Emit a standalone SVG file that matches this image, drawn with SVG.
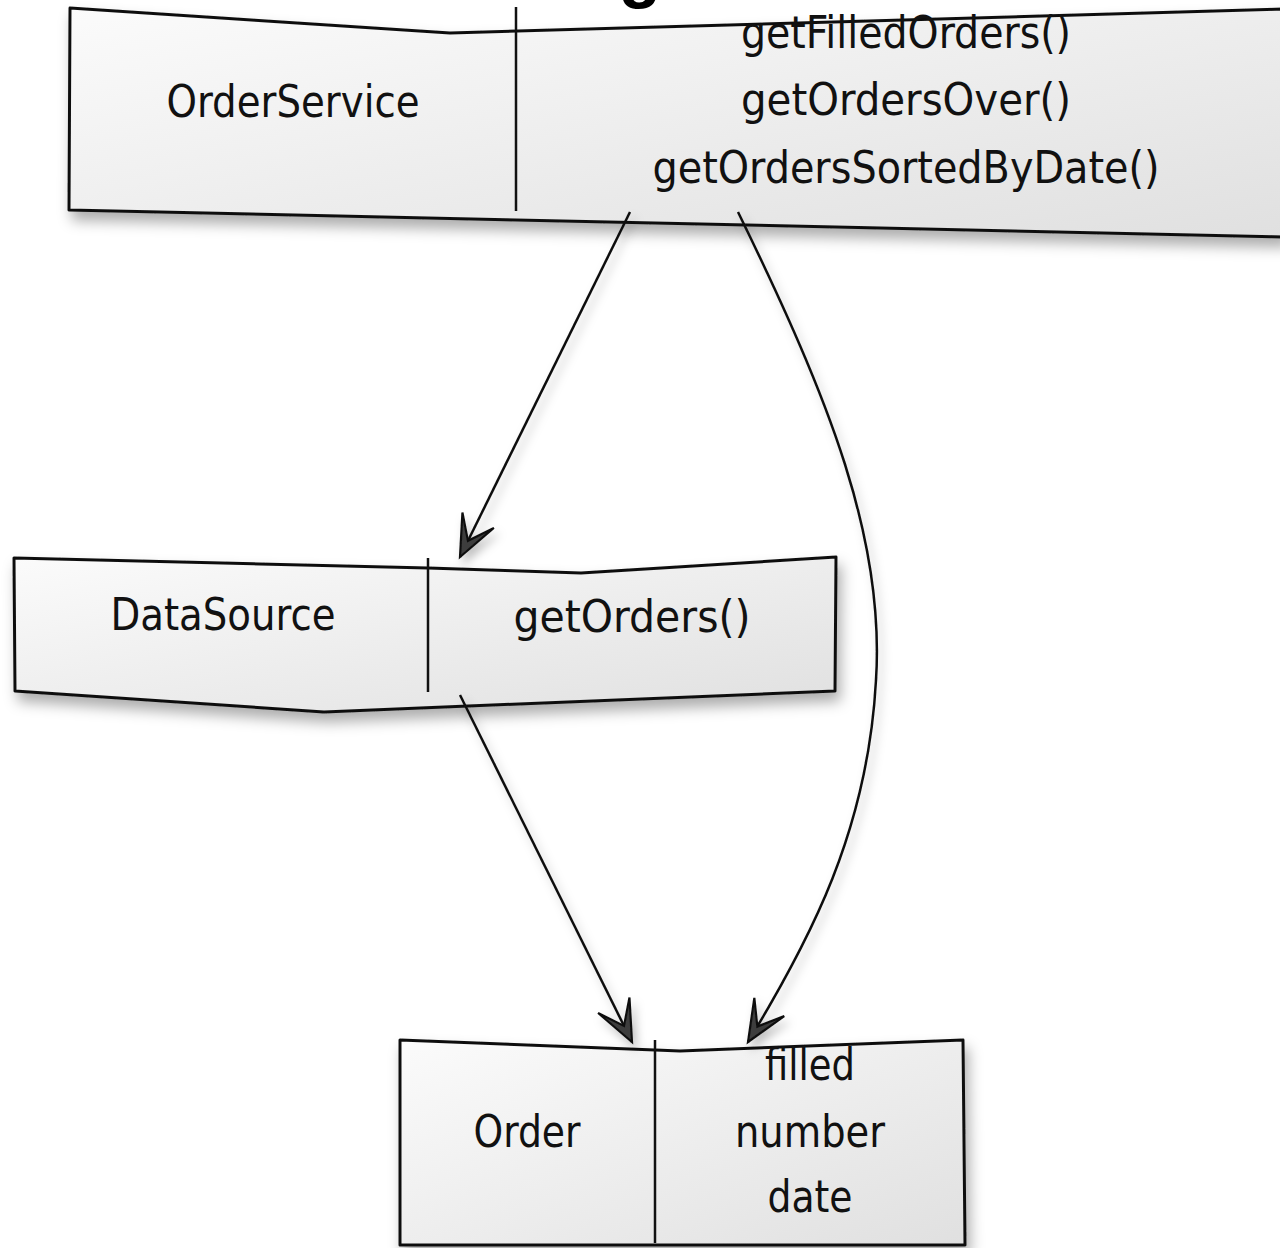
<svg xmlns="http://www.w3.org/2000/svg" width="1280" height="1248" viewBox="0 0 1280 1248">
<style>
.box{fill:url(#g1);stroke:#111;stroke-width:3;stroke-linejoin:round;filter:url(#sh)}
.div{stroke:#111;stroke-width:2.5;fill:none}
.t{font-family:"Liberation Sans Narrow","DejaVu Sans Condensed","Liberation Sans",sans-serif;font-size:44px;fill:#111;text-anchor:middle}
.c{fill:none;stroke:#111;stroke-width:2.5}
</style>
<defs>
<linearGradient id="g1" x1="0" y1="0" x2="1" y2="1">
<stop offset="0" stop-color="#fbfbfb"/>
<stop offset="1" stop-color="#e0e0e0"/>
</linearGradient>
<filter id="sh" x="-10%" y="-20%" width="130%" height="160%">
<feDropShadow dx="4" dy="9" stdDeviation="7" flood-color="#000" flood-opacity="0.32"/>
</filter>
<filter id="ash" x="-50%" y="-50%" width="200%" height="200%">
<feDropShadow dx="4" dy="6" stdDeviation="5" flood-color="#000" flood-opacity="0.25"/>
</filter>
<marker id="arr" markerUnits="userSpaceOnUse" markerWidth="60" markerHeight="50" viewBox="-50 -25 60 50" refX="0" refY="0" orient="auto" overflow="visible">
<path d="M0,0 L-41,-17.5 L-18,0 L-41,17.5 Z" fill="#3c3c3c" stroke="#111" stroke-width="2.2" stroke-linejoin="miter"/>
</marker>
</defs>
<rect width="1280" height="1248" fill="#fff"/>
<text x="640" y="-6" style="font-family:'Liberation Sans',sans-serif;font-weight:bold;font-size:70px;fill:#000;text-anchor:middle">g</text>
<g id="OrderService">
<path class="box" d="M70,8 L450,33 L1284,9 L1284,237 L69,210 Z"/>
<line class="div" x1="516" y1="7" x2="516" y2="211"/>
<text class="t" x="293" y="117" textLength="253" lengthAdjust="spacingAndGlyphs">OrderService</text>
<text class="t" x="906" y="48" textLength="330" lengthAdjust="spacingAndGlyphs">getFilledOrders()</text>
<text class="t" x="906" y="115" textLength="330" lengthAdjust="spacingAndGlyphs">getOrdersOver()</text>
<text class="t" x="906" y="183" textLength="507" lengthAdjust="spacingAndGlyphs">getOrdersSortedByDate()</text>
</g>
<g id="DataSource">
<path class="box" d="M14,558 L428,568 L581,573 L836,557 L835,691 L324,712 L15,691 Z"/>
<line class="div" x1="428" y1="558" x2="428" y2="692"/>
<text class="t" x="223" y="630" textLength="225" lengthAdjust="spacingAndGlyphs">DataSource</text>
<text class="t" x="632" y="632" textLength="237" lengthAdjust="spacingAndGlyphs">getOrders()</text>
</g>
<g id="Order">
<path class="box" d="M400,1040 L655,1050 L680,1051 L963,1040 L965,1245 L400,1245 Z"/>
<line class="div" x1="655" y1="1040" x2="655" y2="1243"/>
<text class="t" x="527" y="1147" textLength="107" lengthAdjust="spacingAndGlyphs">Order</text>
<text class="t" x="810" y="1080" textLength="90" lengthAdjust="spacingAndGlyphs">filled</text>
<text class="t" x="810" y="1147" textLength="150" lengthAdjust="spacingAndGlyphs">number</text>
<text class="t" x="810" y="1212" textLength="85" lengthAdjust="spacingAndGlyphs">date</text>
</g>
<g id="connectors" filter="url(#ash)">
<path class="c" d="M630,212 L460,557" marker-end="url(#arr)"/>
<path class="c" d="M738,212 C830,400 885,540 876,680 C868,830 810,940 748,1042" marker-end="url(#arr)"/>
<path class="c" d="M460,695 L632,1042" marker-end="url(#arr)"/>
</g>
</svg>
